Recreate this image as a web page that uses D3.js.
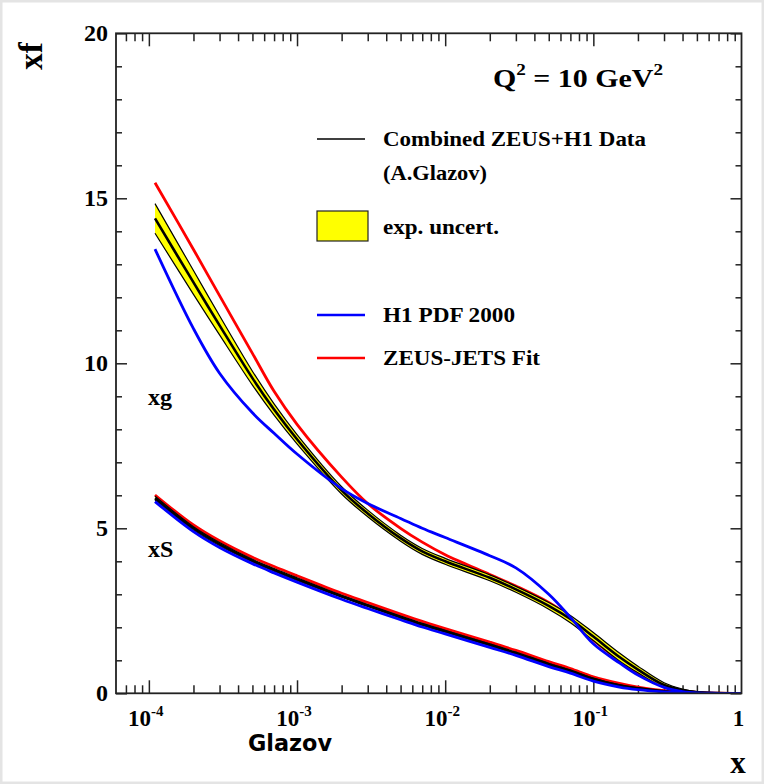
<!DOCTYPE html>
<html>
<head>
<meta charset="utf-8">
<script src="https://cdn.jsdelivr.net/npm/d3@7"></script>
<style>
  body { margin: 0; background: #fff; }
  text { font-family: "Liberation Serif", "Times New Roman", serif; font-weight: bold; fill: #000; }
</style>
</head>
<body>
<div id="chart"></div>
<script>
// x grid shared by every curve
const xValues = [1.1e-4, 2e-4, 3e-4, 5e-4, 7e-4, 1e-3, 2e-3, 3e-3, 5e-3, 7e-3, 1e-2,
                 2e-2, 3e-2, 5e-2, 7e-2, 0.1, 0.15, 0.2, 0.3, 0.4, 0.5, 0.7, 1.0];

// gluon xg
const xgCombined = [14.39, 12.45, 11.15, 9.55, 8.6, 7.7, 6.15, 5.45, 4.7, 4.3, 4.0,
                    3.5, 3.15, 2.65, 2.25, 1.72, 1.1, 0.72, 0.25, 0.09, 0.03, 0.005, 0];
const xgErr      = [0.45, 0.36, 0.29, 0.21, 0.17, 0.14, 0.11, 0.1, 0.09, 0.09, 0.09,
                    0.09, 0.09, 0.1, 0.11, 0.12, 0.12, 0.1, 0.07, 0.04, 0.02, 0.01, 0];
const xgH1       = [13.46, 11.05, 9.7, 8.5, 7.88, 7.25, 6.2, 5.75, 5.3, 5.0, 4.72,
                    4.17, 3.8, 3.0, 2.3, 1.5, 0.92, 0.55, 0.18, 0.05, 0.01, 0, 0];
const xgZeus     = [15.47, 13.45, 12.05, 10.3, 9.15, 8.15, 6.55, 5.75, 5.0, 4.58, 4.2,
                    3.6, 3.25, 2.75, 2.3, 1.62, 1.0, 0.62, 0.22, 0.08, 0.03, 0.005, 0];

// sea quarks xS
const xsCombined = [5.91, 5.0, 4.52, 4.02, 3.74, 3.46, 2.94, 2.66, 2.31, 2.09, 1.88,
                    1.47, 1.22, 0.88, 0.68, 0.43, 0.24, 0.15, 0.06, 0.02, 0.005, 0, 0];
const xsErr      = [0.06, 0.05, 0.05, 0.04, 0.04, 0.04, 0.03, 0.03, 0.03, 0.03, 0.03,
                    0.03, 0.03, 0.03, 0.03, 0.03, 0.02, 0.02, 0.01, 0.01, 0, 0, 0];
const xsH1       = [5.81, 4.9, 4.42, 3.93, 3.65, 3.37, 2.85, 2.57, 2.23, 2.01, 1.8,
                    1.39, 1.15, 0.81, 0.61, 0.37, 0.19, 0.11, 0.04, 0.01, 0, 0, 0];
const xsZeus     = [6.01, 5.1, 4.62, 4.12, 3.84, 3.56, 3.03, 2.75, 2.4, 2.18, 1.96,
                    1.55, 1.3, 0.96, 0.75, 0.5, 0.3, 0.19, 0.08, 0.03, 0.01, 0, 0];

const yTicks = [0, 5, 10, 15, 20];
const xDecades = [1e-4, 1e-3, 1e-2, 1e-1, 1];
const xDecadeExp = ["-4", "-3", "-2", "-1", ""];

const width = 764, height = 784;
const fLeft = 116, fRight = 741.5, fTop = 33.3, fBottom = 693.3;

const svg = d3.select("#chart")
    .append("svg")
    .attr("width", width)
    .attr("height", height);

svg.append("rect")
    .attr("x", 1).attr("y", 1)
    .attr("width", width - 2).attr("height", height - 2)
    .attr("fill", "#fff")
    .attr("stroke", "#e4e4e4")
    .attr("stroke-width", 3);

svg.append("clipPath").attr("id", "plotclip")
    .append("rect")
    .attr("x", fLeft).attr("y", fTop)
    .attr("width", fRight - fLeft).attr("height", fBottom - fTop);

const x = d3.scaleLog().domain([6e-5, 1]).range([fLeft, fRight]);
const y = d3.scaleLinear().domain([0, 20]).range([fBottom, fTop]);

// tick lists
const xMinor = [];
[1e-5, 1e-4, 1e-3, 1e-2, 1e-1].forEach(d => {
    for (let k = 2; k <= 9; k++) {
        const v = d * k;
        if (v > 6.05e-5 && v < 1) xMinor.push(v);
    }
});
const yMinor = d3.range(1, 20).filter(v => v % 5 !== 0);

const axes = svg.append("g").attr("class", "axes");

function tickAxis(axisFn, scale, values, size, translate) {
    axes.append("g")
        .attr("transform", translate)
        .call(axisFn(scale).tickValues(values).tickSize(size).tickFormat(""))
        .call(g => g.select(".domain").remove())
        .call(g => g.selectAll("line").attr("stroke", "#222").attr("stroke-width", 1.5));
}

tickAxis(d3.axisBottom, x, xMinor, -8, `translate(0,${fBottom})`);
tickAxis(d3.axisBottom, x, xDecades.slice(0, 4), -13, `translate(0,${fBottom})`);
tickAxis(d3.axisTop, x, xMinor, -8, `translate(0,${fTop})`);
tickAxis(d3.axisTop, x, xDecades.slice(0, 4), -13, `translate(0,${fTop})`);
tickAxis(d3.axisLeft, y, yMinor, -6, `translate(${fLeft},0)`);
tickAxis(d3.axisLeft, y, yTicks, -11, `translate(${fLeft},0)`);
tickAxis(d3.axisRight, y, yMinor, -6, `translate(${fRight},0)`);
tickAxis(d3.axisRight, y, yTicks, -11, `translate(${fRight},0)`);

// y labels
axes.selectAll(".ylab")
    .data(yTicks)
    .enter().append("text")
    .attr("x", 108)
    .attr("y", d => y(d) + 8)
    .attr("text-anchor", "end")
    .style("font-size", "24px")
    .text(d => d);

// x labels with superscripts
const xlab = axes.selectAll(".xlab")
    .data(xDecades)
    .enter().append("text")
    .attr("x", d => x(d) - 3)
    .attr("y", 726)
    .attr("text-anchor", "middle")
    .style("font-size", "23px");
xlab.append("tspan").text((d, i) => i < 4 ? "10" : "1");
xlab.append("tspan")
    .attr("dy", -10)
    .style("font-size", "15px")
    .text((d, i) => xDecadeExp[i]);

// curves
const line = d3.line()
    .x(d => x(d[0]))
    .y(d => y(d[1]))
    .curve(d3.curveCatmullRom.alpha(0.5));

const area = d3.area()
    .x(d => x(d[0]))
    .y0(d => y(d[1] - d[2]))
    .y1(d => y(d[1] + d[2]))
    .curve(d3.curveCatmullRom.alpha(0.5));

const curves = svg.append("g")
    .attr("class", "curves")
    .attr("clip-path", "url(#plotclip)");

function zip(vals, err) {
    return xValues.map((xv, i) => [xv, vals[i], err ? err[i] : 0]);
}

function drawBand(vals, err) {
    const pts = zip(vals, err);
    curves.append("path").datum(pts).attr("d", area).attr("fill", "#ffff00").attr("stroke", "none");
    curves.append("path").datum(pts.map(d => [d[0], d[1] + d[2]]))
        .attr("d", line).attr("fill", "none").attr("stroke", "#000").attr("stroke-width", 1.2);
    curves.append("path").datum(pts.map(d => [d[0], d[1] - d[2]]))
        .attr("d", line).attr("fill", "none").attr("stroke", "#000").attr("stroke-width", 1.2);
    curves.append("path").datum(pts)
        .attr("d", line).attr("fill", "none").attr("stroke", "#000").attr("stroke-width", 2.6);
}

function drawLine(vals, color) {
    curves.append("path").datum(zip(vals))
        .attr("d", line)
        .attr("fill", "none")
        .attr("stroke", color)
        .attr("stroke-width", 2.8);
}

drawLine(xgZeus, "#ff0000");
drawLine(xsZeus, "#ff0000");
drawBand(xgCombined, xgErr);
drawBand(xsCombined, xsErr);
drawLine(xgH1, "#0000ff");
drawLine(xsH1, "#0000ff");

// frame
svg.append("rect")
    .attr("x", fLeft).attr("y", fTop)
    .attr("width", fRight - fLeft).attr("height", fBottom - fTop)
    .attr("fill", "none")
    .attr("stroke", "#222")
    .attr("stroke-width", 1.8);

// titles
svg.append("text")
    .attr("transform", "translate(42,56) rotate(-90)")
    .attr("text-anchor", "middle")
    .style("font-size", "33px")
    .text("xf");

svg.append("text")
    .attr("x", 738).attr("y", 773)
    .attr("text-anchor", "middle")
    .style("font-size", "31px")
    .text("x");

svg.append("text")
    .attr("x", 248).attr("y", 751)
    .attr("textLength", 84)
    .attr("lengthAdjust", "spacingAndGlyphs")
    .style("font-family", "'Comic Sans MS', 'DejaVu Sans', sans-serif")
    .style("font-size", "23px")
    .text("Glazov");

const q = svg.append("text")
    .attr("x", 493).attr("y", 87)
    .attr("textLength", 170)
    .attr("lengthAdjust", "spacingAndGlyphs")
    .style("font-size", "25px");
q.append("tspan").text("Q");
q.append("tspan").attr("dy", -12).style("font-size", "16px").text("2");
q.append("tspan").attr("dy", 12).text(" = 10 GeV");
q.append("tspan").attr("dy", -12).style("font-size", "16px").text("2");

svg.append("text").attr("x", 148).attr("y", 405).style("font-size", "24px").text("xg");
svg.append("text").attr("x", 148).attr("y", 557).style("font-size", "24px").text("xS");

// legend
const legend = svg.append("g").attr("class", "legend");
const legendLines = [
    { y: 139, color: "#000", width: 1.5, label: "Combined ZEUS+H1 Data", ty: 146, len: 263 },
    { y: 315, color: "#0000ff", width: 2.6, label: "H1 PDF 2000", ty: 322, len: 132 },
    { y: 358, color: "#ff0000", width: 2.6, label: "ZEUS-JETS Fit", ty: 365, len: 157 }
];
legendLines.forEach(d => {
    legend.append("line")
        .attr("x1", 317).attr("x2", 365)
        .attr("y1", d.y).attr("y2", d.y)
        .attr("stroke", d.color).attr("stroke-width", d.width);
    legend.append("text")
        .attr("x", 383).attr("y", d.ty)
        .attr("textLength", d.len)
        .attr("lengthAdjust", "spacingAndGlyphs")
        .style("font-size", "22px")
        .text(d.label);
});
legend.append("text").attr("x", 383).attr("y", 180)
    .attr("textLength", 104).attr("lengthAdjust", "spacingAndGlyphs")
    .style("font-size", "22px").text("(A.Glazov)");
legend.append("rect")
    .attr("x", 317).attr("y", 211)
    .attr("width", 51).attr("height", 30)
    .attr("fill", "#ffff00")
    .attr("stroke", "#222")
    .attr("stroke-width", 1.2);
legend.append("text").attr("x", 383).attr("y", 234)
    .attr("textLength", 116).attr("lengthAdjust", "spacingAndGlyphs")
    .style("font-size", "22px").text("exp. uncert.");
</script>
</body>
</html>
